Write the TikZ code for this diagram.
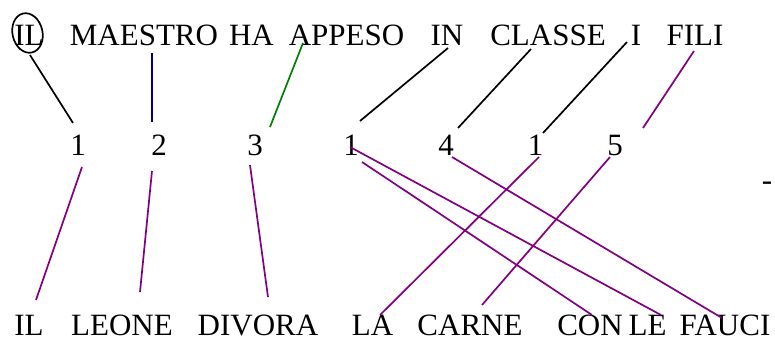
\documentclass[tikz,border=0pt]{standalone}
\usepackage{fontspec}
\setmainfont{Liberation Serif}
\definecolor{lpurple}{RGB}{128,0,128}
\definecolor{lblue}{RGB}{0,0,140}
\definecolor{lgreen}{RGB}{0,128,0}
\tikzset{
  word/.style={anchor=base,inner sep=0pt,font=\fontsize{31}{36}\selectfont},
  link/.style={line width=1.7pt},
}
\begin{document}
\begin{tikzpicture}[x=1pt,y=-1pt]
\useasboundingbox (0,0) rectangle (775,342);
% first sentence
\node[word] (il) at (29,46) {IL};
\node[word] (maestro) at (144,46) {MAESTRO};
\node[word] (ha) at (251.5,46) {HA};
\node[word] (appeso) at (346.5,46) {APPESO};
\node[word] (in) at (447,46) {IN};
\node[word] (classe) at (548,46) {CLASSE};
\node[word] (i) at (636,46) {I};
\node[word] (fili) at (695,46) {FILI};
% numbers
\node[word] (n1) at (78,155) {1};
\node[word] (n2) at (159,155) {2};
\node[word] (n3) at (255,155) {3};
\node[word] (n4) at (351,155) {1};
\node[word] (n5) at (446,155) {4};
\node[word] (n6) at (535.5,155) {1};
\node[word] (n7) at (615,155) {5};
\node[word] (stray) at (767,190) {-};
% second sentence
\node[word] (il2) at (29,335) {IL};
\node[word] (leone) at (122,335) {LEONE};
\node[word] (divora) at (258,335) {DIVORA};
\node[word] (la) at (372.5,335) {LA};
\node[word] (carne) at (470,335) {CARNE};
\node[word] (con) at (590,335) {CON};
\node[word] (le) at (647.5,335) {LE};
\node[word] (fauci) at (725,335) {FAUCI};
% circle round IL
\draw[link,rotate around={13:(27.5,33)}] (27.5,33) ellipse [x radius=15,y radius=20];
% top links
\draw[link] ([shift={(1,9)}]il.base) -- ([shift={(-5,-32)}]n1.base);
\draw[link,lblue] ([shift={(8,7)}]maestro.base) -- ([shift={(-7,-33)}]n2.base);
\draw[link,lgreen] ([shift={(-43.5,-3)}]appeso.base) -- ([shift={(15,-28)}]n3.base);
\draw[link] ([shift={(1,2)}]in.base) -- ([shift={(9,-34)}]n4.base);
\draw[link] ([shift={(-17,3)}]classe.base) -- ([shift={(12,-27)}]n5.base);
\draw[link] ([shift={(-9,-4)}]i.base) -- ([shift={(7.5,-22)}]n6.base);
\draw[link,lpurple] ([shift={(-1,5)}]fili.base) -- ([shift={(28,-27)}]n7.base);
% bottom links
\draw[link,lpurple] ([shift={(4,12)}]n1.base) -- ([shift={(7,-35)}]il2.base);
\draw[link,lpurple] ([shift={(-7,16)}]n2.base) -- ([shift={(18,-43)}]leone.base);
\draw[link,lpurple] ([shift={(-5,10)}]n3.base) -- ([shift={(10,-38)}]divora.base);
\draw[link,lpurple] ([shift={(-1,-8)}]n4.base) -- ([shift={(13.5,-20)}]le.base);
\draw[link,lpurple] ([shift={(11,7)}]n4.base) -- ([shift={(2,-20)}]con.base);
\draw[link,lpurple] ([shift={(6,2)}]n5.base) -- ([shift={(-3,-17)}]fauci.base);
\draw[link,lpurple] ([shift={(3.5,2)}]n6.base) -- ([shift={(7.5,-20)}]la.base);
\draw[link,lpurple] ([shift={(-5,2)}]n7.base) -- ([shift={(12,-30)}]carne.base);
\end{tikzpicture}
\end{document}
